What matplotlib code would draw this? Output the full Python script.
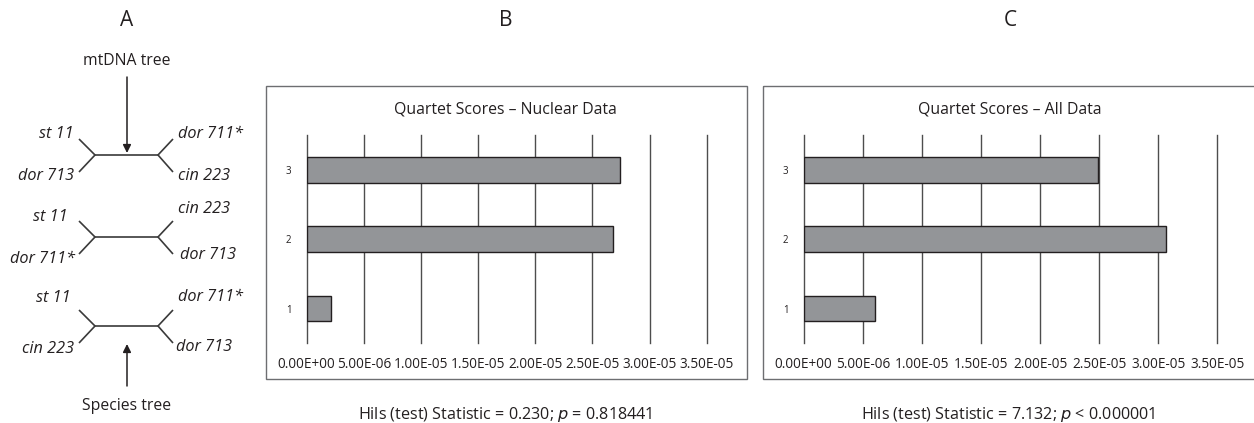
import matplotlib
matplotlib.use("Agg")
import matplotlib.pyplot as plt
from matplotlib.patches import Rectangle

plt.rcParams['font.family'] = ['Open Sans', 'DejaVu Sans']

# ---------------- data ----------------
categories = [1, 2, 3]
nuclear_scores = [2.1e-6, 2.68e-5, 2.74e-5]
all_scores = [6.0e-6, 3.065e-5, 2.49e-5]
x_ticks = [0, 5e-6, 1e-5, 1.5e-5, 2e-5, 2.5e-5, 3e-5, 3.5e-5]
x_tick_labels = ["0.00E+00", "5.00E-06", "1.00E-05", "1.50E-05",
                 "2.00E-05", "2.50E-05", "3.00E-05", "3.50E-05"]
titles = ["Quartet Scores \u2013 Nuclear Data", "Quartet Scores \u2013 All Data"]
stats_text = [("0.230", "=", "0.818441"), ("7.132", "<", "0.000001")]
panel_letters = ["A", "B", "C"]
# quartet trees: (upper-left, lower-left, upper-right, lower-right)
trees = [("st 11", "dor 713", "dor 711*", "cin 223"),
         ("st 11", "dor 711*", "cin 223", "dor 713"),
         ("st 11", "cin 223", "dor 711*", "dor 713")]
tree_captions = ["mtDNA tree", "Species tree"]

W, H = 1254, 423
fig = plt.figure(figsize=(W / 100, H / 100), dpi=100)

# overlay axes in pixel coordinates
ov = fig.add_axes([0, 0, 1, 1])
ov.set_xlim(0, W)
ov.set_ylim(H, 0)
ov.axis('off')

TXT = '#231f20'

# panel letters
for letter, x in zip(panel_letters, [127, 506, 1010]):
    ov.text(x, 21, letter, fontsize=15, ha='center', va='center', color=TXT)

# ---------- panel A: trees ----------
line_kw = dict(color='#3a3a3a', lw=1.2, solid_capstyle='butt')
tree_y = [155, 237, 326]
label_dy = [(21, 21, 21, 21), (20, 22, 28, 18), (28, 23, 29, 21)]
label_dx = [(0, 0, 0, 0), (6, -1, 0, 2), (3, 0, 0, -2)]
for (ul, ll, ur, lr), y, dy, dx in zip(trees, tree_y, label_dy, label_dx):
    xl, xr = 95, 158
    ov.plot([xl, xr], [y, y], **line_kw)
    ov.plot([xl - 16, xl, xl - 16], [y - 16, y, y + 17], **line_kw)
    ov.plot([xr + 15, xr, xr + 15], [y - 16, y, y + 17], **line_kw)
    fs = 11.7
    ov.text(74 - dx[0], y - dy[0], ul, style='italic', fontsize=fs, ha='right', va='center', color=TXT)
    ov.text(74 - dx[1], y + dy[1], ll, style='italic', fontsize=fs, ha='right', va='center', color=TXT)
    ov.text(178 + dx[2], y - dy[2], ur, style='italic', fontsize=fs, ha='left', va='center', color=TXT)
    ov.text(178 + dx[3], y + dy[3], lr, style='italic', fontsize=fs, ha='left', va='center', color=TXT)

ov.text(127, 61, tree_captions[0], fontsize=11.3, ha='center', va='center', color=TXT)
ov.annotate('', xy=(127, 153), xytext=(127, 77),
            arrowprops=dict(arrowstyle='-|>', color=TXT, lw=1.1,
                            mutation_scale=12, shrinkA=0, shrinkB=0))
ov.annotate('', xy=(127, 344), xytext=(127, 386),
            arrowprops=dict(arrowstyle='-|>', color=TXT, lw=1.1,
                            mutation_scale=12, shrinkA=0, shrinkB=0))
ov.text(127, 406, tree_captions[1], fontsize=11.3, ha='center', va='center', color=TXT)

# ---------- panels B, C: bar charts ----------
frames = [(265.5, 85.7, 746.7, 379.3), (762.5, 85.7, 1262, 379.3)]
axes_px = [(306.7, 706.7), (803.7, 1217.3)]
title_x = [505, 1010]
stat_x = [505, 1008]
grid_top, grid_bot = 135, 343.3
for i, (scores, title, (stat, rel, pval)) in enumerate(zip([nuclear_scores, all_scores], titles, stats_text)):
    fx0, fy0, fx1, fy1 = frames[i]
    ov.add_patch(Rectangle((fx0, fy0), fx1 - fx0, fy1 - fy0, fill=False,
                           edgecolor='#6d6e71', lw=1.0, clip_on=False))
    x0, x1 = axes_px[i]
    ax = fig.add_axes([x0 / W, (H - grid_bot) / H, (x1 - x0) / W, (grid_bot - grid_top) / H])
    ax.set_xlim(0, 3.5e-5)
    ax.set_ylim(0.5, 3.5)
    for t in x_ticks:
        ax.axvline(t, color='#4d4d4d', lw=1.0, zorder=0, clip_on=False)
    ax.barh(categories, scores, height=0.37, color='#939598', edgecolor=TXT,
            linewidth=1.0, zorder=2)
    for s in ax.spines.values():
        s.set_visible(False)
    ax.set_xticks(x_ticks)
    ax.set_xticklabels(x_tick_labels, fontsize=9.8, color=TXT)
    ax.set_yticks(categories)
    ax.set_yticklabels([str(c) for c in categories], fontsize=7, color=TXT)
    ax.tick_params(length=0)
    ax.tick_params(axis='x', pad=10)
    ax.tick_params(axis='y', pad=11)
    ax.patch.set_alpha(0)
    ov.text(title_x[i], 109, title, fontsize=11.4, ha='center', va='center', color=TXT)
    ov.text(stat_x[i], 414,
            f"Hils (test) Statistic = {stat}; $\\it{{p}}$ {rel} {pval}",
            fontsize=11.6, ha='center', va='center', color=TXT)

fig.savefig('out.png', dpi=100)
